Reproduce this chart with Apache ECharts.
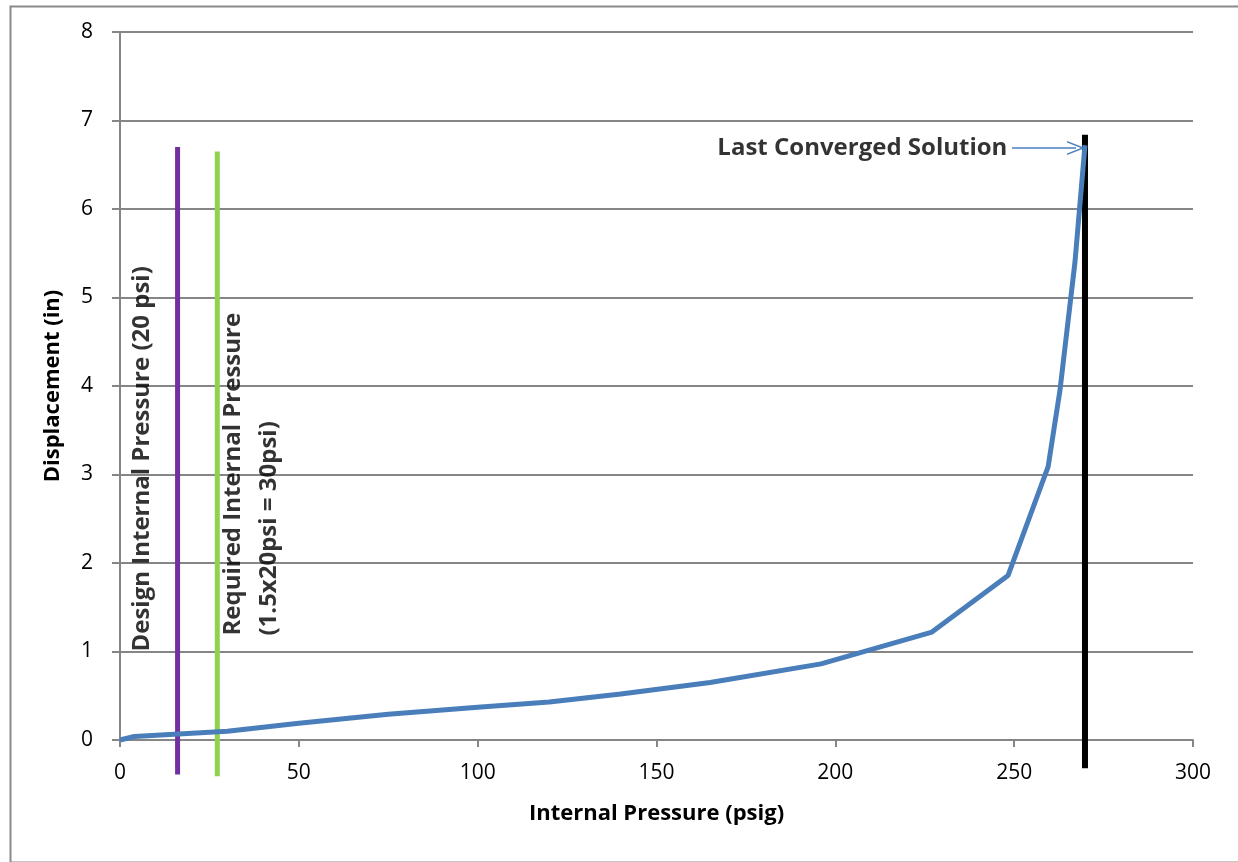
<!DOCTYPE html>
<html>
<head>
<meta charset="utf-8">
<script src="https://cdn.jsdelivr.net/npm/echarts@6/dist/echarts.min.js"></script>
<style>
html,body{margin:0;padding:0;background:#fff;}
#chart{width:1238px;height:862px;}
</style>
</head>
<body>
<div id="chart"></div>
<script>
// Main curve: internal pressure (psig) vs displacement (in)
const pressure = [0, 4, 30, 50, 75, 100, 120, 140, 165, 196, 227, 248.3, 259.5, 262.8, 267.0, 269.8];
const displacement = [0, 0.04, 0.10, 0.19, 0.29, 0.37, 0.43, 0.52, 0.65, 0.86, 1.22, 1.86, 3.09, 3.95, 5.40, 6.72];

// Reference vertical lines: [x, yBottom, yTop]
const designLine = [16.1, -0.39, 6.70];
const requiredLine = [27.2, -0.41, 6.65];
const lastLine = [269.8, -0.32, 6.84];

// Annotation texts
const designText = 'Design Internal Pressure (20 psi)';
const requiredText1 = 'Required Internal Pressure';
const requiredText2 = '(1.5x20psi = 30psi)';
const lastText = 'Last Converged Solution';

// Axis ticks
const xTicks = [0, 50, 100, 150, 200, 250, 300];
const yTicks = [0, 1, 2, 3, 4, 5, 6, 7, 8];

const FONT = '"Open Sans", "Liberation Sans", sans-serif';

function vline(v, color, width) {
  return {
    type: 'line', data: [[v[0], v[1]], [v[0], v[2]]],
    showSymbol: false, clip: false, silent: true,
    lineStyle: {color: color, width: width}, z: 3
  };
}

function vtext(x, y, text) {
  return {
    type: 'scatter', data: [[x, y, text]], symbolSize: 0, silent: true, z: 5,
    label: {
      show: true, position: 'inside', rotate: 90, align: 'left', verticalAlign: 'middle',
      formatter: p => p.value[2], color: '#000', fontFamily: FONT, fontWeight: 'bold', fontSize: 24
    }
  };
}

const chart = echarts.init(document.getElementById('chart'), null, {renderer: 'canvas'});
chart.setOption({
  animation: false,
  backgroundColor: '#fff',
  graphic: [{
    type: 'rect', left: 8, top: 4, shape: {width: 1229, height: 856},
    style: {fill: 'none', stroke: '#8a8a8a', lineWidth: 2}, silent: true, z: -1
  }],
  grid: {left: 120, right: 45, top: 32, bottom: 122},
  xAxis: {
    type: 'value', min: xTicks[0], max: xTicks[xTicks.length - 1], interval: 50,
    name: 'Internal Pressure (psig)', nameLocation: 'middle', nameGap: 63,
    nameTextStyle: {color: '#000', fontFamily: FONT, fontWeight: 'bold', fontSize: 22},
    axisLine: {show: true, lineStyle: {color: '#868686', width: 2}},
    axisTick: {show: true, length: 7, lineStyle: {color: '#868686', width: 2}},
    axisLabel: {color: '#000', fontFamily: FONT, fontSize: 21, margin: 23},
    splitLine: {show: false}
  },
  yAxis: {
    type: 'value', min: yTicks[0], max: yTicks[yTicks.length - 1], interval: 1,
    name: 'Displacement (in)', nameLocation: 'middle', nameGap: 56, nameRotate: 90,
    nameTextStyle: {color: '#000', fontFamily: FONT, fontWeight: 'bold', fontSize: 22},
    axisLine: {show: true, lineStyle: {color: '#868686', width: 2}},
    axisTick: {show: true, length: 8, lineStyle: {color: '#868686', width: 2}},
    axisLabel: {color: '#000', fontFamily: FONT, fontSize: 21, margin: 27},
    splitLine: {show: true, lineStyle: {color: '#868686', width: 2}}
  },
  series: [
    {
      type: 'line', data: pressure.map((p, i) => [p, displacement[i]]),
      showSymbol: false, lineStyle: {color: '#4a7ebb', width: 5}, z: 4, clip: false,
      markLine: {
        silent: true, symbol: ['none', 'path://M0,10 L5,0 L10,10 L8.9,10 L5,2.3 L1.1,10 Z'],
        symbolSize: [14, 18], label: {show: false},
        lineStyle: {color: '#4a7ebb', width: 1.5, type: 'solid'},
        data: [[{coord: [249.4, 6.69]}, {coord: [267.3, 6.69]}]]
      }
    },
    vline(designLine, '#7030a0', 5),
    vline(requiredLine, '#92d050', 5),
    vline(lastLine, '#000000', 6),
    vtext(6.2, 1.0, designText),
    vtext(31.7, 1.18, requiredText1),
    vtext(41.8, 1.18, requiredText2),
    {
      type: 'scatter', data: [[248.1, 6.69, lastText]], symbolSize: 0, silent: true, z: 5,
      label: {
        show: true, position: 'inside', align: 'right', verticalAlign: 'middle',
        formatter: p => p.value[2], color: '#000', fontFamily: FONT, fontWeight: 'bold', fontSize: 24
      }
    }
  ]
});
</script>
</body>
</html>
